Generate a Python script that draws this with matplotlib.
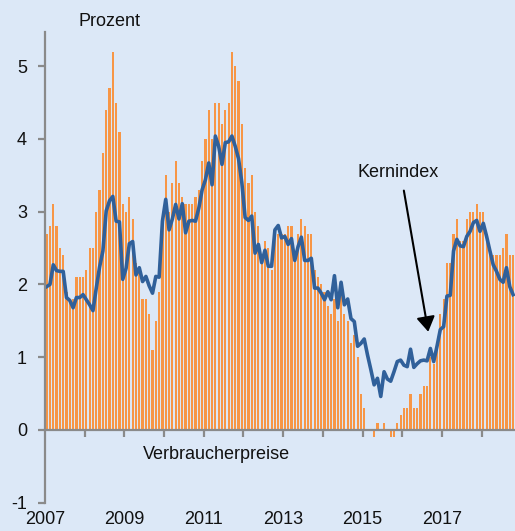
import numpy as np
import matplotlib
matplotlib.use("Agg")
import matplotlib.pyplot as plt

# Monthly data, Jan 2007 - Oct 2018
start_year = 2007
cpi = [2.7, 2.8, 3.1, 2.8, 2.5, 2.4, 1.9, 1.8, 1.8, 2.1, 2.1, 2.1,
       2.2, 2.5, 2.5, 3.0, 3.3, 3.8, 4.4, 4.7, 5.2, 4.5, 4.1, 3.1,
       3.0, 3.2, 2.9, 2.3, 2.2, 1.8, 1.8, 1.6, 1.1, 1.5, 1.9, 2.9,
       3.5, 3.0, 3.4, 3.7, 3.4, 3.2, 3.1, 3.1, 3.1, 3.2, 3.3, 3.7,
       4.0, 4.4, 4.0, 4.5, 4.5, 4.2, 4.4, 4.5, 5.2, 5.0, 4.8, 4.2,
       3.6, 3.4, 3.5, 3.0, 2.8, 2.4, 2.6, 2.5, 2.2, 2.7, 2.7, 2.7,
       2.7, 2.8, 2.8, 2.4, 2.7, 2.9, 2.8, 2.7, 2.7, 2.2, 2.1, 2.0,
       1.9, 1.7, 1.6, 1.8, 1.5, 1.9, 1.6, 1.5, 1.2, 1.3, 1.0, 0.5,
       0.3, 0.0, 0.0, -0.1, 0.1, 0.0, 0.1, 0.0, -0.1, -0.1, 0.1, 0.2,
       0.3, 0.3, 0.5, 0.3, 0.3, 0.5, 0.6, 0.6, 1.0, 0.9, 1.2, 1.6,
       1.8, 2.3, 2.3, 2.7, 2.9, 2.6, 2.6, 2.9, 3.0, 3.0, 3.1, 3.0,
       3.0, 2.7, 2.5, 2.4, 2.4, 2.4, 2.5, 2.7, 2.4, 2.4]

core = [1.97, 2.00, 2.27, 2.19, 2.18, 2.18, 1.82, 1.78, 1.68, 1.82, 1.82, 1.86,
        1.79, 1.72, 1.64, 1.95, 2.24, 2.46, 3.01, 3.15, 3.21, 2.87, 2.86, 2.07,
        2.22, 2.56, 2.59, 2.13, 2.23, 2.04, 2.11, 1.98, 1.88, 2.11, 2.10, 2.87,
        3.17, 2.75, 2.90, 3.10, 2.90, 3.11, 2.71, 2.87, 2.88, 2.87, 3.05, 3.30,
        3.44, 3.67, 3.37, 4.04, 3.90, 3.65, 3.95, 3.96, 4.04, 3.90, 3.73, 3.40,
        2.92, 2.88, 2.94, 2.43, 2.55, 2.30, 2.47, 2.25, 2.25, 2.75, 2.81, 2.64,
        2.66, 2.55, 2.63, 2.33, 2.52, 2.65, 2.33, 2.33, 2.36, 1.95, 1.95, 1.88,
        1.79, 1.90, 1.79, 2.12, 1.68, 2.03, 1.72, 1.80, 1.53, 1.49, 1.15, 1.19,
        1.25, 1.03, 0.83, 0.62, 0.71, 0.46, 0.80, 0.70, 0.67, 0.80, 0.94, 0.96,
        0.89, 0.87, 1.11, 0.86, 0.91, 0.95, 0.96, 0.95, 1.12, 0.94, 1.15, 1.38,
        1.42, 1.84, 1.85, 2.46, 2.62, 2.53, 2.52, 2.66, 2.73, 2.85, 2.88, 2.73,
        2.84, 2.66, 2.46, 2.27, 2.18, 2.07, 2.03, 2.23, 1.97, 1.86]

year_labels = [2007, 2009, 2011, 2013, 2015, 2017]
year_ticks = list(range(2008, 2019))
y_ticks = [-1, 0, 1, 2, 3, 4, 5]

plt.rcParams['font.family'] = ['Liberation Sans', 'DejaVu Sans']

bg = '#DCE8F7'
gray = '#8A8A8A'
orange = '#F79646'
blue = '#30609A'

fig = plt.figure(figsize=(5.15, 5.31), dpi=100)
fig.patch.set_facecolor(bg)
W, H = 515, 531
ax = fig.add_axes([45 / W, (H - 502.7) / H, 470 / W, (502.7 - 32) / H])
ax.set_facecolor(bg)

x = start_year + (np.arange(len(cpi)) + 0.5) / 12
ax.bar(x, cpi, width=0.66 / 12, color=orange, zorder=2, linewidth=0)
ax.plot(x, core, color=blue, lw=2.6, zorder=3, solid_joinstyle='round')

ax.set_xlim(2007, 2018.84)
ax.set_ylim(-1, 5.47)

for s in ['top', 'right']:
    ax.spines[s].set_visible(False)
ax.spines['bottom'].set_position(('data', 0))
for s in ['bottom', 'left']:
    ax.spines[s].set_color(gray)
    ax.spines[s].set_linewidth(1.6)
    ax.spines[s].set_zorder(4)

ax.set_xticks(year_ticks)
ax.set_xticklabels([])
ax.tick_params(axis='x', direction='out', length=5, width=1.6, color=gray)
ax.set_yticks(y_ticks)
ax.set_yticklabels([str(v) for v in y_ticks])
ax.tick_params(axis='y', direction='out', length=5, width=1.6, color=gray,
               labelsize=13, pad=8, labelcolor='#111111')

sec = ax.secondary_xaxis('bottom')
sec.set_xticks(year_labels)
sec.set_xticklabels([str(v) for v in year_labels])
sec.spines['bottom'].set_visible(False)
sec.tick_params(axis='x', length=0, labelsize=13, pad=6, labelcolor='#111111')

fig.text(110 / W, 1 - 22 / H, 'Prozent', ha='center', va='center', fontsize=13, color='#111111')
ax.text(2011.32, -0.34, 'Verbraucherpreise', ha='center', va='center', fontsize=13, color='#111111')
ax.text(2015.89, 3.535, 'Kernindex', ha='center', va='center', fontsize=13, color='#111111')
ax.annotate('', xy=(2016.655, 1.35), xytext=(2016.04, 3.29),
            arrowprops=dict(arrowstyle='-|>,head_length=0.45,head_width=0.28',
                            color='black', lw=1.5, mutation_scale=20, shrinkA=0, shrinkB=0),
            zorder=5)

fig.savefig('out.png', dpi=100, facecolor=bg)
